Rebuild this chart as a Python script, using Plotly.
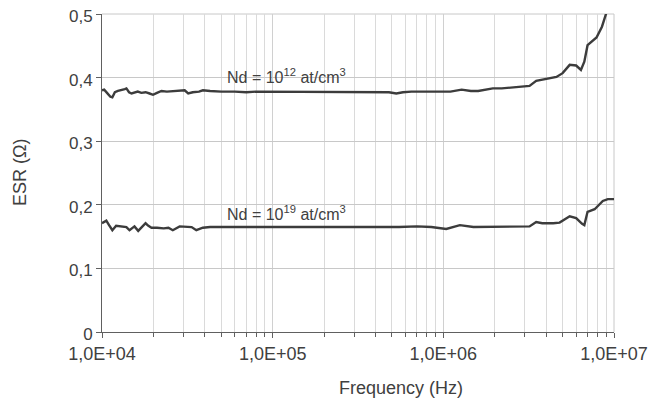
import plotly.graph_objects as go

freq_hi = [1.00e4, 1.03e4, 1.07e4, 1.12e4, 1.15e4, 1.19e4, 1.24e4, 1.30e4, 1.36e4, 1.39e4,
           1.44e4, 1.49e4, 1.55e4, 1.62e4, 1.70e4, 1.80e4, 1.90e4, 1.99e4, 2.10e4, 2.23e4,
           2.40e4, 2.60e4, 2.80e4, 3.05e4, 3.20e4, 3.40e4, 3.70e4, 3.90e4, 4.3e4, 5e4,
           6e4, 7e4, 8e4, 9e4, 1.0e5, 1.3e5, 1.6e5, 2.0e5, 2.5e5, 3.0e5,
           3.5e5, 4.2e5, 4.8e5, 5.3e5, 5.8e5, 6.5e5, 7.5e5, 8.5e5, 9.5e5, 1.1e6,
           1.28e6, 1.45e6, 1.6e6, 1.95e6, 2.2e6, 2.56e6, 2.9e6, 3.2e6, 3.5e6, 4.0e6,
           4.6e6, 5.0e6, 5.5e6, 6.0e6, 6.4e6, 6.7e6, 7.0e6, 7.9e6, 8.5e6, 9.0e6, 1.0e7]
esr_hi = [0.380, 0.381, 0.376, 0.370, 0.369, 0.377, 0.379, 0.380, 0.382, 0.383,
          0.377, 0.375, 0.377, 0.378, 0.376, 0.377, 0.375, 0.373, 0.376, 0.379,
          0.378, 0.379, 0.379, 0.380, 0.375, 0.377, 0.378, 0.380, 0.379, 0.378,
          0.378, 0.377, 0.378, 0.378, 0.377, 0.378, 0.377, 0.378, 0.378, 0.377,
          0.378, 0.378, 0.377, 0.375, 0.377, 0.378, 0.378, 0.377, 0.378, 0.378,
          0.381, 0.379, 0.379, 0.383, 0.383, 0.385, 0.386, 0.387, 0.395, 0.398,
          0.401, 0.407, 0.420, 0.419, 0.412, 0.425, 0.451, 0.463, 0.480, 0.501, 0.525]

freq_lo = [1.00e4, 1.06e4, 1.10e4, 1.15e4, 1.21e4, 1.27e4, 1.33e4, 1.39e4, 1.45e4, 1.55e4,
           1.63e4, 1.72e4, 1.80e4, 1.87e4, 1.95e4, 2.1e4, 2.3e4, 2.45e4, 2.6e4, 2.85e4,
           3.1e4, 3.35e4, 3.57e4, 3.9e4, 4.3e4, 5e4, 6e4, 7e4, 8e4, 1e5,
           1.3e5, 1.6e5, 2e5, 2.6e5, 3.2e5, 4.2e5, 5.5e5, 7e5, 8.5e5, 1.04e6,
           1.25e6, 1.5e6, 1.9e6, 2.5e6, 3.2e6, 3.5e6, 3.8e6, 4.4e6, 4.8e6, 5.5e6,
           6.0e6, 6.5e6, 6.7e6, 7.0e6, 7.7e6, 8.6e6, 9.2e6, 1.0e7]
esr_lo = [0.171, 0.175, 0.168, 0.160, 0.167, 0.166, 0.165, 0.165, 0.160, 0.166,
          0.159, 0.165, 0.171, 0.167, 0.164, 0.164, 0.163, 0.164, 0.160, 0.166,
          0.166, 0.165, 0.160, 0.164, 0.165, 0.165, 0.164, 0.165, 0.164, 0.165,
          0.165, 0.164, 0.165, 0.165, 0.164, 0.165, 0.165, 0.166, 0.165, 0.162,
          0.168, 0.165, 0.165, 0.166, 0.166, 0.173, 0.171, 0.171, 0.172, 0.182,
          0.179, 0.170, 0.168, 0.189, 0.193, 0.206, 0.209, 0.209]

x_tickvals = [1e4, 1e5, 1e6, 1e7]
x_ticktext = ["1,0E+04", "1,0E+05", "1,0E+06", "1,0E+07"]
x_minor = [m * 10 ** d for d in (4, 5, 6) for m in range(2, 10)]
y_tickvals = [0, 0.1, 0.2, 0.3, 0.4, 0.5]
y_ticktext = ["0", "0,1", "0,2", "0,3", "0,4", "0,5"]

label_hi = "Nd = 10<sup>12</sup> at/cm<sup>3</sup>"
label_lo = "Nd = 10<sup>19</sup> at/cm<sup>3</sup>"

FONT = "Liberation Sans, Arial, sans-serif"
TXT = "#404040"
LINE = "#3c3c3c"
GRID = "#c8c8c8"

# page body has an 8px margin, so the figure is sized to fit the window
W, H = 657, 394
L, R, T, B = 94, 51, 6, 70
PW, PH = W - L - R, H - T - B

fig = go.Figure()
fig.add_trace(go.Scatter(x=freq_hi, y=esr_hi, mode="lines",
                         line=dict(color=LINE, width=2.4), showlegend=False))
fig.add_trace(go.Scatter(x=freq_lo, y=esr_lo, mode="lines",
                         line=dict(color=LINE, width=2.4), showlegend=False))

fig.update_layout(
    width=W, height=H,
    margin=dict(l=L, r=R, t=T, b=B, autoexpand=False),
    paper_bgcolor="white", plot_bgcolor="white",
    font=dict(family=FONT, size=17, color=TXT),
    showlegend=False,
)
fig.update_xaxes(
    type="log", range=[4, 7],
    tickvals=x_tickvals, ticktext=x_ticktext,
    ticks="outside", ticklen=5, tickcolor="#606060",
    showline=True, linecolor="#606060", linewidth=1,
    showgrid=True, gridcolor="#d0d0d0", gridwidth=1,
    minor=dict(tickvals=x_minor, ticks="outside", ticklen=4, tickcolor="#606060",
               showgrid=True, gridcolor="#dadada", gridwidth=1),
    tickfont=dict(size=18, color=TXT),
    ticklabeloverflow="allow",
    zeroline=False,
)
fig.update_yaxes(
    range=[0, 0.5],
    tickvals=y_tickvals, ticktext=y_ticktext,
    ticks="outside", ticklen=5, tickcolor="#606060",
    showline=True, linecolor="#606060", linewidth=1,
    showgrid=True, gridcolor=GRID, gridwidth=1,
    tickfont=dict(size=17, color=TXT),
    ticklabeloverflow="allow",
    ticklabelshift=2,
    zeroline=False,
)

# plot-area border on the top and right, in grid colour
fig.add_shape(type="line", xref="paper", yref="paper", x0=0, x1=1, y0=1, y1=1,
              line=dict(color=GRID, width=1), layer="below")
fig.add_shape(type="line", xref="paper", yref="paper", x0=1, x1=1, y0=0, y1=1,
              line=dict(color=GRID, width=1), layer="below")

fig.add_annotation(x=(286.5 - 102.3) / 170.67 + 4, y=0.402, xref="x", yref="y",
                   text=label_hi, showarrow=False, font=dict(size=16, color=TXT))
fig.add_annotation(x=(286.5 - 102.3) / 170.67 + 4, y=0.187, xref="x", yref="y",
                   text=label_lo, showarrow=False, font=dict(size=16, color=TXT))
fig.add_annotation(x=(401 - 102) / PW, y=-(388 - 332) / PH, xref="paper", yref="paper",
                   text="Frequency (Hz)", showarrow=False,
                   xanchor="center", yanchor="middle", font=dict(size=18, color=TXT))
fig.add_annotation(x=-(102 - 20) / PW, y=0.5, xref="paper", yref="paper",
                   text="ESR (Ω)", textangle=-90, showarrow=False,
                   xanchor="center", yanchor="middle", font=dict(size=18, color=TXT))

fig.write_html("out.html")
